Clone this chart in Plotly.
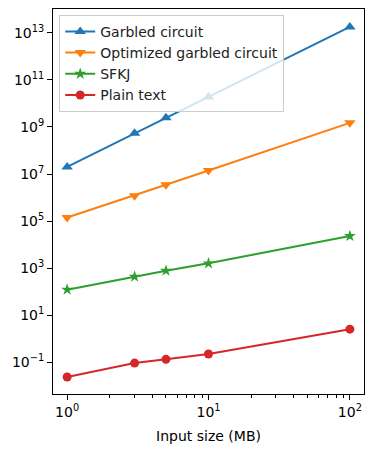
import plotly.graph_objects as go

input_size_mb = [1, 3, 5, 10, 100]
garbled_circuit = [2.0e7, 5.4e8, 2.5e9, 1.9e10, 1.8e13]
optimized_garbled_circuit = [1.4e5, 1.2e6, 3.5e6, 1.4e7, 1.5e9]
sfkj = [120, 430, 770, 1580, 2.3e4]
plain_text = [0.023, 0.09, 0.13, 0.22, 2.5]

series = [
    ("Garbled circuit", garbled_circuit, "#1f77b4", "triangle-up", 10),
    ("Optimized garbled circuit", optimized_garbled_circuit, "#ff7f0e", "triangle-down", 10),
    ("SFKJ", sfkj, "#2ca02c", "star", 9),
    ("Plain text", plain_text, "#d62728", "circle", 9),
]

fig = go.Figure()
for name, ys, color, sym, size in series:
    fig.add_trace(go.Scatter(
        x=input_size_mb, y=ys, name=name, mode="lines+markers",
        line=dict(color=color, width=2),
        marker=dict(symbol=sym, size=size, color=color, line=dict(width=0)),
    ))

font = dict(family="DejaVu Sans", size=14, color="black")
fig.update_layout(
    width=372, height=452,
    margin=dict(l=53, r=8, t=9, b=58),
    paper_bgcolor="white", plot_bgcolor="white",
    font=font,
    showlegend=True,
    legend=dict(
        x=0.02, y=0.985, xanchor="left", yanchor="top",
        bgcolor="rgba(255,255,255,0.8)", bordercolor="#cccccc", borderwidth=1,
        font=dict(family="DejaVu Sans", size=14, color="#222"),
        tracegroupgap=0,
    ),
)
fig.update_xaxes(
    type="log", range=[-0.1, 2.1], automargin=False,
    tickvals=[1, 10, 100], ticktext=["10<sup>0</sup>", "10<sup>1</sup>", "10<sup>2</sup>"],
    ticks="outside", ticklen=5, tickwidth=1, tickcolor="black",
    showline=True, linecolor="black", linewidth=1, mirror=True,
    showgrid=False, zeroline=False,
    minor=dict(ticks="outside", ticklen=3, tickcolor="black", tickwidth=0.8,
               tickvals=[2, 3, 4, 5, 6, 7, 8, 9, 20, 30, 40, 50, 60, 70, 80, 90], showgrid=False),
    title=dict(text="Input size (MB)", font=font, standoff=12),
)
ytv = [10.0 ** e for e in range(-1, 14, 2)]
ytt = ["10<sup>%s</sup>" % ("\u2212" + str(-e) if e < 0 else str(e)) for e in range(-1, 14, 2)]
fig.update_yaxes(
    type="log", range=[-2.36, 14.02], automargin=False,
    tickvals=ytv, ticktext=ytt,
    ticks="outside", ticklen=5, tickwidth=1, tickcolor="black",
    showline=True, linecolor="black", linewidth=1, mirror=True,
    showgrid=False, zeroline=False,
)
fig.write_html("out.html", config={"displayModeBar": False},
               post_script="document.body.style.margin='0px';document.body.style.overflow='hidden';")
